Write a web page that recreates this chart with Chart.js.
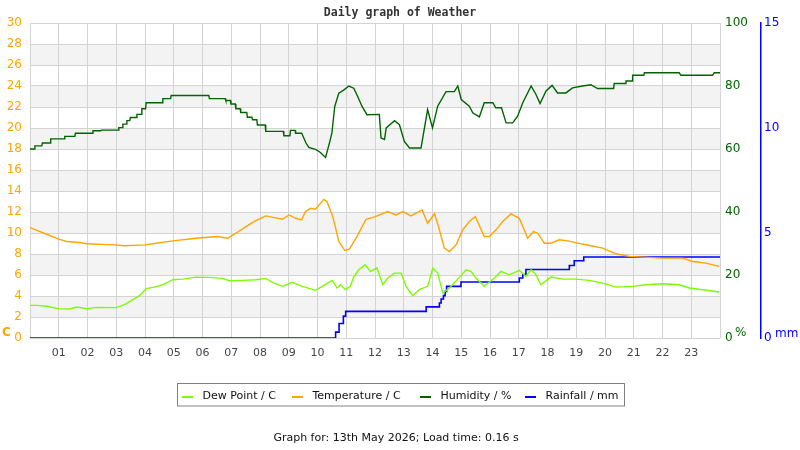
<!DOCTYPE html>
<html>
<head>
<meta charset="utf-8">
<script src="https://cdn.jsdelivr.net/npm/chart.js@4"></script>
<style>
html,body{margin:0;padding:0;background:#fff;}
#wrap{width:800px;height:450px;position:relative;}
</style>
</head>
<body>
<div id="wrap"><canvas id="c" width="800" height="450"></canvas></div>
<script>
// ---- data (hours of day, values) ----
const hourLabels = ['01','02','03','04','05','06','07','08','09','10','11','12','13','14','15','16','17','18','19','20','21','22','23'];

const dewTimes = [0,0.23,0.58,0.98,1.39,1.62,1.96,2.31,3.0,3.29,3.58,3.81,4.04,4.33,4.62,4.97,5.31,5.77,6.24,6.7,6.93,7.39,7.85,8.2,8.43,8.78,9.12,9.47,9.93,10.16,10.51,10.68,10.8,10.97,11.14,11.26,11.43,11.66,11.84,12.07,12.27,12.44,12.68,12.91,13.08,13.31,13.54,13.83,14.01,14.18,14.36,14.59,14.94,15.17,15.34,15.51,15.8,16.15,16.38,16.67,17.02,17.25,17.43,17.6,17.77,18.12,18.53,18.99,19.45,19.92,20.38,20.96,21.42,22.0,22.58,22.93,23.39,23.97];
const dewPoint = [3.11,3.11,3.02,2.8,2.76,2.95,2.8,2.92,2.89,3.18,3.65,4.03,4.7,4.85,5.07,5.55,5.61,5.8,5.77,5.68,5.45,5.49,5.55,5.68,5.3,4.92,5.3,4.92,4.54,4.92,5.49,4.76,5.07,4.6,4.92,5.8,6.5,6.97,6.34,6.66,5.07,5.71,6.18,6.18,4.92,4.03,4.6,4.92,6.66,6.18,4.28,4.76,5.8,6.5,6.34,5.71,4.92,5.71,6.34,6.02,6.44,5.87,6.5,6.02,5.07,5.8,5.61,5.61,5.49,5.23,4.85,4.92,5.07,5.17,5.07,4.76,4.6,4.38];

const tempTimes = [0,0.35,0.69,0.98,1.27,1.73,1.96,2.94,3.29,3.98,4.39,4.97,5.77,6.52,6.87,7.16,7.51,7.85,8.2,8.49,8.78,9.01,9.24,9.45,9.58,9.76,9.93,10.22,10.33,10.51,10.62,10.74,10.95,11.11,11.37,11.69,12.01,12.44,12.73,12.97,13.25,13.64,13.83,14.07,14.24,14.41,14.59,14.82,15.05,15.28,15.49,15.8,15.98,16.21,16.44,16.73,17.02,17.31,17.51,17.66,17.89,18.12,18.41,18.7,19.05,19.51,19.92,20.38,20.84,22.0,22.7,23.05,23.51,23.97];
const temperature = [10.52,10.14,9.76,9.44,9.19,9.09,8.97,8.87,8.78,8.87,9.03,9.25,9.5,9.66,9.5,9.98,10.61,11.18,11.63,11.47,11.31,11.72,11.4,11.25,12.04,12.35,12.26,13.2,12.99,11.72,10.61,9.19,8.33,8.46,9.66,11.31,11.56,12.04,11.72,12.04,11.63,12.2,10.93,11.82,10.3,8.56,8.24,8.87,10.3,11.09,11.56,9.66,9.66,10.3,11.09,11.82,11.4,9.5,10.14,9.98,9.03,9.03,9.35,9.25,9.03,8.78,8.56,8.02,7.77,7.61,7.61,7.29,7.13,6.82];

const humTimes = [0,0.15,0.17,0.41,0.43,0.7,0.72,1.19,1.21,1.56,1.58,2.17,2.19,2.46,2.48,3.07,3.09,3.21,3.23,3.35,3.37,3.47,3.49,3.7,3.72,3.87,3.89,4.02,4.04,4.6,4.62,4.89,4.91,6.22,6.24,6.79,6.81,6.97,6.99,7.14,7.16,7.31,7.33,7.54,7.56,7.72,7.74,7.89,7.91,8.18,8.2,8.81,8.83,9.04,9.06,9.22,9.24,9.45,9.6,9.7,9.95,10.1,10.28,10.4,10.5,10.6,10.74,10.91,11.09,11.26,11.37,11.55,11.72,12.15,12.21,12.33,12.39,12.68,12.85,13.02,13.2,13.6,13.83,14.0,14.18,14.47,14.76,14.88,15.0,15.28,15.4,15.63,15.8,16.1,16.2,16.4,16.56,16.79,16.96,17.14,17.43,17.6,17.74,17.95,18.16,18.35,18.64,18.87,19.22,19.51,19.74,20.3,20.32,20.71,20.73,20.94,20.96,21.35,21.37,22.58,22.64,23.74,23.8,24];
const humidity = [60,60,61,61,61.9,61.9,63.2,63.2,64,64,65,65,65.8,65.8,66,66,66.8,66.8,67.9,67.9,69,69,70,70,71,71,72.8,72.8,74.7,74.7,76,76,77,77,76,76,75.4,75.4,74.3,74.3,72.8,72.8,71.6,71.6,70.1,70.1,69.3,69.3,67.6,67.6,65.6,65.6,64.2,64.2,65.9,65.9,65,65,61.9,60.5,59.8,58.9,57.3,61.4,65,73.5,77.7,78.7,80,79.3,77.2,73.5,70.9,71,63.5,63,66.7,69,67.7,62.4,60.3,60.3,72.5,66.7,73.6,78.2,78.2,80,75.7,73.6,71.5,70.2,74.7,74.7,73.1,73.1,68.3,68.3,70.4,74.7,80,77.3,74.4,78.4,80.2,77.8,77.8,79.4,80,80.4,79.2,79.2,80.8,80.8,81.6,81.6,83.4,83.4,84.2,84.2,83.4,83.4,84.2,84.2];

const rainTimes = [0,10.63,10.75,10.9,10.98,13.78,14.24,14.3,14.38,14.44,14.49,14.99,17.02,17.14,17.25,18.76,18.93,19.26,24];
const rainfall = [0,0.28,0.69,1.04,1.27,1.48,1.67,1.86,2.02,2.22,2.46,2.67,2.86,3.02,3.26,3.45,3.68,3.86,3.86];

const seriesNames = ['Dew Point / C','Temperature / C','Humidity / %','Rainfall / mm'];
const seriesColors = ['#7CFC00','#FFA500','#006400','#0000FF'];
const titleText = 'Daily graph of Weather';
const footerText = 'Graph for: 13th May 2026; Load time: 0.16 s';

// ---- helpers ----
const pts = (xs, ys) => xs.map((x, i) => ({x: x, y: ys[i]}));

const bandPlugin = {
  id: 'bands',
  beforeDraw(chart) {
    const {ctx, chartArea: a, scales} = chart;
    const y = scales.y;
    ctx.save();
    ctx.fillStyle = '#f3f3f3';
    for (let v = 2; v < 30; v += 4) {
      const top = y.getPixelForValue(v + 2), bot = y.getPixelForValue(v);
      ctx.fillRect(a.left, top, a.right - a.left, bot - top);
    }
    ctx.restore();
  }
};

const decoPlugin = {
  id: 'deco',
  afterDraw(chart) {
    const ctx = chart.ctx;
    ctx.save();
    // title
    ctx.font = 'bold 11.5px "DejaVu Sans Mono"';
    ctx.fillStyle = '#333';
    ctx.textAlign = 'center';
    ctx.textBaseline = 'middle';
    ctx.fillText(titleText, 400, 13);
    // axis titles
    ctx.font = 'bold 12px "DejaVu Sans"';
    ctx.fillStyle = '#FFA500';
    ctx.textAlign = 'left';
    ctx.fillText('C', 2, 333);
    ctx.font = '12px "DejaVu Sans"';
    ctx.fillStyle = '#006400';
    ctx.fillText('%', 735, 333);
    ctx.fillStyle = '#0000FF';
    ctx.fillText('mm', 775, 334);
    // legend box
    ctx.strokeStyle = '#808080';
    ctx.lineWidth = 1;
    ctx.strokeRect(177.5, 383.5, 447, 22.5);
    const lx = [182, 292, 420, 525];
    ctx.font = '11px "DejaVu Sans"';
    ctx.textBaseline = 'middle';
    for (let i = 0; i < 4; i++) {
      ctx.strokeStyle = seriesColors[i];
      ctx.lineWidth = 2;
      ctx.beginPath();
      ctx.moveTo(lx[i], 397);
      ctx.lineTo(lx[i] + 11, 397);
      ctx.stroke();
      ctx.fillStyle = '#111';
      ctx.fillText(seriesNames[i], lx[i] + 20.5, 396);
    }
    // footer
    ctx.textAlign = 'center';
    ctx.fillStyle = '#111';
    ctx.fillText(footerText, 396, 438);
    ctx.restore();
  }
};

const gridColor = '#d3d3d3';

new Chart(document.getElementById('c'), {
  type: 'line',
  data: {
    datasets: [
      {label: seriesNames[0], data: pts(dewTimes, dewPoint), borderColor: seriesColors[0], yAxisID: 'y', borderWidth: 1.4, pointRadius: 0, tension: 0},
      {label: seriesNames[1], data: pts(tempTimes, temperature), borderColor: seriesColors[1], yAxisID: 'y', borderWidth: 1.4, pointRadius: 0, tension: 0},
      {label: seriesNames[2], data: pts(humTimes, humidity), borderColor: seriesColors[2], yAxisID: 'y1', borderWidth: 1.4, pointRadius: 0, tension: 0},
      {label: seriesNames[3], data: pts(rainTimes, rainfall), borderColor: seriesColors[3], yAxisID: 'y2', borderWidth: 1.6, pointRadius: 0, stepped: true}
    ]
  },
  options: {
    responsive: false,
    animation: false,
    events: [],
    layout: {padding: {top: 23, bottom: 92, left: 0, right: 0}},
    plugins: {legend: {display: false}, title: {display: false}, tooltip: {enabled: false}},
    scales: {
      x: {
        type: 'linear', min: 0, max: 24,
        afterFit(s) { s.height = 20; },
        grid: {color: gridColor, drawTicks: false, lineWidth: 1},
        border: {display: false},
        ticks: {
          stepSize: 1, autoSkip: false, maxRotation: 0, padding: 9,
          color: '#444', font: {family: 'DejaVu Sans', size: 11},
          callback: v => (v >= 1 && v <= 23) ? hourLabels[v - 1] : ''
        }
      },
      y: {
        position: 'left', min: 0, max: 30,
        afterFit(s) { s.width = 30; },
        grid: {color: gridColor, drawTicks: false},
        border: {display: false},
        ticks: {stepSize: 2, padding: 8, color: '#FFA500', font: {family: 'DejaVu Sans', size: 12}}
      },
      y1: {
        position: 'right', min: 0, max: 100,
        afterFit(s) { s.width = 41; },
        grid: {display: false, drawTicks: false},
        border: {display: false},
        ticks: {stepSize: 20, padding: 5, color: '#006400', font: {family: 'DejaVu Sans', size: 12}}
      },
      y2: {
        position: 'right', min: 0, max: 15,
        afterFit(s) { s.width = 39; },
        grid: {display: false, drawTicks: false},
        border: {display: true, color: '#0000FF', width: 1.5},
        ticks: {stepSize: 5, padding: 3, color: '#0000FF', font: {family: 'DejaVu Sans', size: 12}}
      }
    }
  },
  plugins: [bandPlugin, decoPlugin]
});
</script>
</body>
</html>
